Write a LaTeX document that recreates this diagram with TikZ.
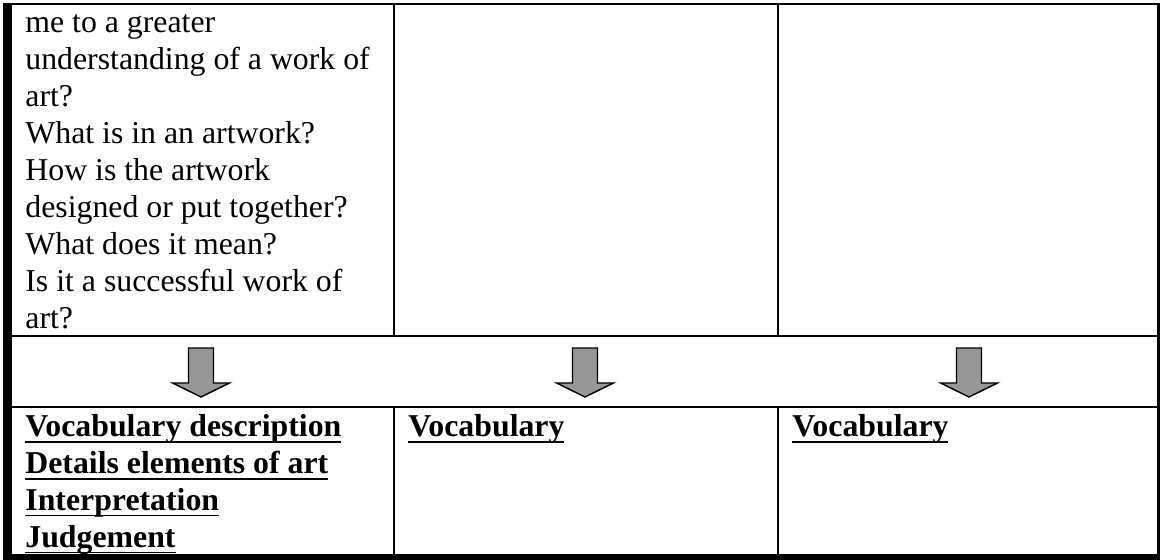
\documentclass[tikz,border=0pt]{standalone}
\usepackage{fontspec}
\setmainfont{Liberation Serif}
\definecolor{arrowgray}{RGB}{150,150,150}
\newcommand\myul[1]{\setbox0\hbox{#1}\rlap{\rule[-2.9pt]{\wd0}{0.8pt}}\box0}
\tikzset{
  celltext/.style={anchor=base west,inner sep=0pt,font=\fontsize{15.9}{18.4}\selectfont},
  headtext/.style={celltext,font=\fontsize{15.9}{18.4}\selectfont\bfseries},
  rule/.style={line width=1pt,draw=black},
  blockarrow/.style={fill=arrowgray,draw=black,line width=0.7pt,line join=miter},
}
\begin{document}
\begin{tikzpicture}[x=0.5pt,y=-0.5pt]
\useasboundingbox (0,0) rectangle (1160,560);
% outer frame
\fill (3,3) rectangle (1160,5.5);
\fill (1157,3) rectangle (1160,560);
\fill (3,3) rectangle (12,560);
\fill (3,554) rectangle (1160,560);
% inner rules
\draw[rule] (12,336) -- (1157,336);
\draw[rule] (12,407) -- (1157,407);
\draw[rule] (393.5,5) -- (393.5,336);
\draw[rule] (777.5,5) -- (777.5,336);
\draw[rule] (393.5,407) -- (393.5,554);
\draw[rule] (777.5,407) -- (777.5,554);
% top-left text
\foreach \t [count=\i] in {me to a greater,understanding of a work of,art?,What is in an artwork?,How is the artwork,designed or put together?,What does it mean?,Is it a successful work of,art?}
  \node[celltext] (q\i) at (25,{33+37*(\i-1)}) {\t};
% arrows
\foreach \cx [count=\i] in {201,585,969}
  \draw[blockarrow] (\cx-12.5,348) -- (\cx+12.5,348) -- (\cx+12.5,383) -- (\cx+28.5,383)
     -- (\cx,397) -- (\cx-28.5,383) -- (\cx-12.5,383) -- cycle;
% bottom texts
\node[headtext] (v1) at (25,437) {\myul{Vocabulary description}};
\node[headtext] (v2) at (25,473.8) {\myul{Details elements of art}};
\node[headtext] (v3) at (25,510.6) {\myul{Interpretation}};
\node[headtext] (v4) at (25,547.4) {\myul{Judgement}};
\node[headtext] (w1) at (408,437) {\myul{Vocabulary}};
\node[headtext] (w2) at (792,437) {\myul{Vocabulary}};
\end{tikzpicture}
\end{document}
